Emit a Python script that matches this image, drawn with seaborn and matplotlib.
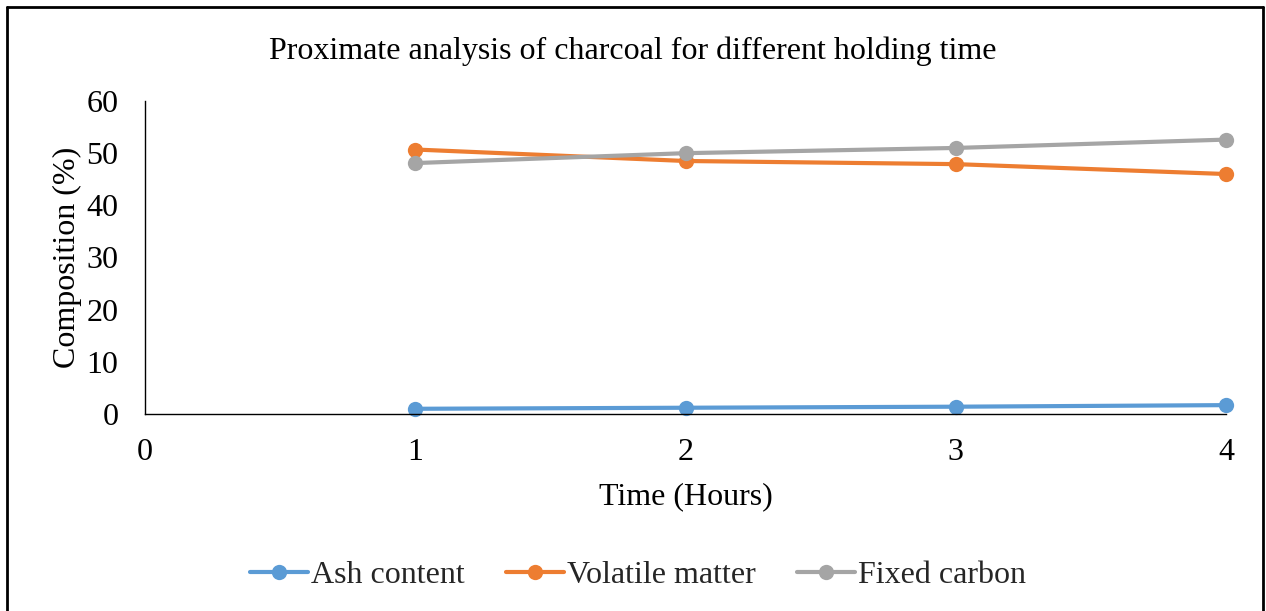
import matplotlib
matplotlib.use("Agg")
import matplotlib.pyplot as plt
import seaborn as sns
import pandas as pd
from matplotlib.lines import Line2D

time_hours = [1, 2, 3, 4]
ash_content = [1.0, 1.2, 1.4, 1.7]
volatile_matter = [50.7, 48.5, 47.9, 46.0]
fixed_carbon = [48.1, 50.0, 51.0, 52.6]
series_names = ["Ash content", "Volatile matter", "Fixed carbon"]
colors = ["#5B9BD5", "#ED7D31", "#A5A5A5"]

df = pd.DataFrame({
    "Time": time_hours * 3,
    "Value": ash_content + volatile_matter + fixed_carbon,
    "Series": [series_names[0]] * 4 + [series_names[1]] * 4 + [series_names[2]] * 4,
})

sns.set_theme(style="white")
plt.rcParams["font.family"] = ["Liberation Serif", "DejaVu Serif"]

W, H = 1266, 611
fig = plt.figure(figsize=(W / 100, H / 100), dpi=100)
ax = fig.add_axes([145 / W, 1 - 414 / H, (1226 - 145) / W, (414 - 101) / H])

sns.lineplot(data=df, x="Time", y="Value", hue="Series", palette=colors,
             marker="o", markersize=11, linewidth=3, markeredgewidth=0,
             ax=ax, legend=False)
for ln in ax.lines:
    ln.set_clip_on(False)

ax.set_xlim(0, 4)
ax.set_ylim(0, 60)
ax.set_xticks([0, 1, 2, 3, 4])
ax.set_yticks([0, 10, 20, 30, 40, 50, 60])
ax.tick_params(axis="x", labelsize=23, length=0, pad=17, colors="black")
ax.tick_params(axis="y", labelsize=23, length=0, pad=19, colors="black")
for s in ["top", "right"]:
    ax.spines[s].set_visible(False)
for s in ["left", "bottom"]:
    ax.spines[s].set_color("black")
    ax.spines[s].set_linewidth(1.0)
ax.grid(False)
ax.set_xlabel("Time (Hours)", fontsize=23, labelpad=11, color="black")
ax.set_ylabel("Composition (%)", fontsize=23, labelpad=3, color="black")

fig.text(0.5, 1 - 51 / H, "Proximate analysis of charcoal for different holding time",
         ha="center", va="center", fontsize=23, color="black")

handles = [Line2D([], [], color=c, marker="o", markersize=11, linewidth=3,
                  markeredgewidth=0) for c in colors]
fig.legend(handles, series_names, loc="center", bbox_to_anchor=(0.5 + 5 / W, 1 - 575 / H),
           ncol=3, frameon=False, fontsize=23, handlelength=1.8, handletextpad=0.1,
           columnspacing=1.3)

# outer chart border (top, left, right)
bx0, bx1, by0, by1 = 7 / W, 1263 / W, 1 - 7 / H, -0.01
for xs, ys in [([bx0, bx1], [by0, by0]), ([bx0, bx0], [by0, by1]),
               ([bx1, bx1], [by0, by1])]:
    fig.add_artist(Line2D(xs, ys, transform=fig.transFigure, color="black", linewidth=2))

fig.savefig("out.png", dpi=100)
